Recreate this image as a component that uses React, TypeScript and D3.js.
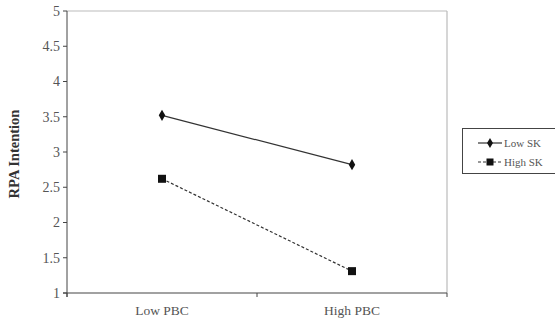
import React from "react";
import * as d3 from "d3";

const categories = ["Low PBC", "High PBC"];
const lowSK = [3.52, 2.82];
const highSK = [2.62, 1.31];
const yTicks = [1, 1.5, 2, 2.5, 3, 3.5, 4, 4.5, 5];
const seriesNames = ["Low SK", "High SK"];

export default function App() {
  const W = 555, H = 321;
  const left = 67, right = 447, top = 11, bottom = 293;
  const y = d3.scaleLinear().domain([1, 5]).range([bottom, top]);
  const xBand = d3.scalePoint<string>().domain(categories).range([left, right]).padding(0.5);
  const line = d3.line<number>().x((_, i) => xBand(categories[i])!).y((d) => y(d));
  const font = "'Liberation Serif', 'Times New Roman', serif";
  const grey = "#555";
  return (
    <svg width={W} height={H} style={{ position: "absolute", left: 0, top: 0 }} fontFamily={font}>
      <rect x={0} y={0} width={W} height={H} fill="#fff" />
      {/* frame */}
      <line x1={left} y1={top} x2={right} y2={top} stroke="#bbb" strokeWidth={1} />
      <line x1={right} y1={top} x2={right} y2={bottom} stroke="#bbb" strokeWidth={1.2} />
      {/* y axis */}
      <line x1={left} y1={top} x2={left} y2={bottom + 4} stroke="#444" strokeWidth={1} />
      {yTicks.map((t) => (
        <g key={t}>
          <line x1={left - 4} x2={left} y1={y(t)} y2={y(t)} stroke="#444" />
          <text x={left - 7} y={y(t)} dy="0.35em" textAnchor="end" fontSize={14} fill={grey}>
            {t}
          </text>
        </g>
      ))}
      {/* x axis */}
      <line x1={left - 4} x2={right} y1={bottom} y2={bottom} stroke="#444" strokeWidth={1.2} />
      {[left, (left + right) / 2, right].map((x, i) => (
        <line key={i} x1={x} x2={x} y1={bottom} y2={bottom + 4} stroke="#444" />
      ))}
      {categories.map((c) => (
        <text key={c} x={xBand(c)} y={315} textAnchor="middle" fontSize={13.5} fill={grey}>
          {c}
        </text>
      ))}
      <text
        transform={`translate(19,${(top + bottom) / 2 + 2}) rotate(-90)`}
        textAnchor="middle"
        fontSize={14.5}
        fontWeight="bold"
        fill="#333"
      >
        RPA Intention
      </text>
      {/* series */}
      <path d={line(lowSK)!} fill="none" stroke="#333" strokeWidth={1.2} />
      <path d={line(highSK)!} fill="none" stroke="#333" strokeWidth={1.2} strokeDasharray="3,2" />
      {lowSK.map((v, i) => (
        <path
          key={i}
          d={d3.symbol().type(d3.symbolDiamond).size(36)()!}
          transform={`translate(${xBand(categories[i])},${y(v)})`}
          fill="#111"
        />
      ))}
      {highSK.map((v, i) => (
        <rect key={i} x={xBand(categories[i])! - 4} y={y(v) - 4} width={8} height={8} fill="#111" />
      ))}
      {/* legend */}
      <rect x={462.5} y={128.5} width={93} height={45} fill="none" stroke="#444" strokeWidth={1} />
      <line x1={478} x2={502} y1={143} y2={143} stroke="#333" strokeWidth={1.2} />
      <path d={d3.symbol().type(d3.symbolDiamond).size(30)()!} transform="translate(490,143)" fill="#111" />
      <text x={504} y={143} dy="0.35em" fontSize={11} fill={grey}>{seriesNames[0]}</text>
      <line x1={478} x2={502} y1={162} y2={162} stroke="#333" strokeWidth={1.2} strokeDasharray="3,2" />
      <rect x={486.5} y={158.5} width={7} height={7} fill="#111" />
      <text x={504} y={162} dy="0.35em" fontSize={11} fill={grey}>{seriesNames[1]}</text>
    </svg>
  );
}
